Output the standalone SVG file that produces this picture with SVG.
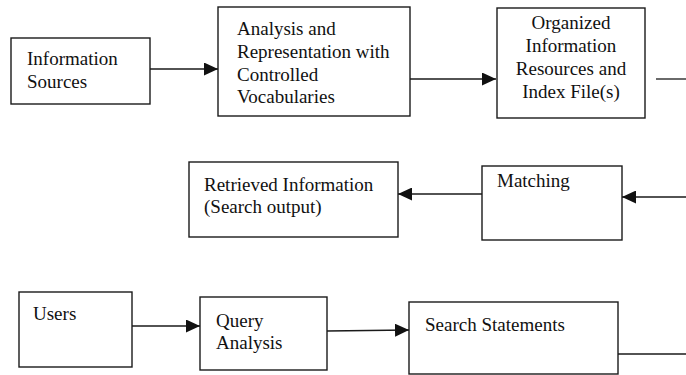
<svg xmlns="http://www.w3.org/2000/svg" width="686" height="375" viewBox="0 0 686 375">
<defs>
<marker id="ah" markerUnits="userSpaceOnUse" markerWidth="14" markerHeight="13" refX="14" refY="6.5" orient="auto">
<path d="M0,0 L14,6.5 L0,13 z" fill="#111"/>
</marker>
<style>
.box{fill:#fff;stroke:#1a1a1a;stroke-width:1.4}
.t{font-family:"Liberation Serif","Times New Roman",serif;font-size:19px;fill:#111}
.c{text-anchor:middle}
.ln{stroke:#1a1a1a;stroke-width:1.3;fill:none}
</style>
</defs>
<rect width="686" height="375" fill="#fff"/>
<g id="connectors">
<line class="ln" x1="150" y1="69" x2="218" y2="69" marker-end="url(#ah)"/>
<line class="ln" x1="410" y1="79" x2="496" y2="79" marker-end="url(#ah)"/>
<line class="ln" x1="656" y1="79" x2="686" y2="79"/>
<line class="ln" x1="686" y1="197" x2="622" y2="197" marker-end="url(#ah)"/>
<line class="ln" x1="482" y1="194" x2="398" y2="194" marker-end="url(#ah)"/>
<line class="ln" x1="132" y1="326" x2="200" y2="326" marker-end="url(#ah)"/>
<line class="ln" x1="327" y1="331" x2="409" y2="330" marker-end="url(#ah)"/>
<line class="ln" x1="618" y1="354" x2="686" y2="354"/>
</g>
<g id="info-sources">
<rect class="box" x="11" y="38" width="139" height="66"/>
<text class="t" x="27" y="65">Information</text>
<text class="t" x="27" y="88">Sources</text>
</g>
<g id="analysis">
<rect class="box" x="218" y="7" width="192" height="109"/>
<text class="t" x="237" y="35">Analysis and</text>
<text class="t" x="237" y="58">Representation with</text>
<text class="t" x="237" y="81">Controlled</text>
<text class="t" x="237" y="103">Vocabularies</text>
</g>
<g id="organized">
<rect class="box" x="497" y="8" width="148" height="110"/>
<text class="t c" x="571" y="29">Organized</text>
<text class="t c" x="571" y="52">Information</text>
<text class="t c" x="571" y="75">Resources and</text>
<text class="t c" x="571" y="98">Index File(s)</text>
</g>
<g id="matching">
<rect class="box" x="482" y="166" width="140" height="74"/>
<text class="t" x="497" y="187">Matching</text>
</g>
<g id="retrieved">
<rect class="box" x="189" y="162" width="209" height="75"/>
<text class="t" x="204" y="191">Retrieved Information</text>
<text class="t" x="204" y="213">(Search output)</text>
</g>
<g id="users">
<rect class="box" x="19" y="292" width="113" height="75"/>
<text class="t" x="33" y="320">Users</text>
</g>
<g id="query">
<rect class="box" x="200" y="297" width="127" height="73"/>
<text class="t" x="216" y="327">Query</text>
<text class="t" x="216" y="349">Analysis</text>
</g>
<g id="search">
<rect class="box" x="409" y="302" width="209" height="72"/>
<text class="t" x="425" y="331">Search Statements</text>
</g>
</svg>
